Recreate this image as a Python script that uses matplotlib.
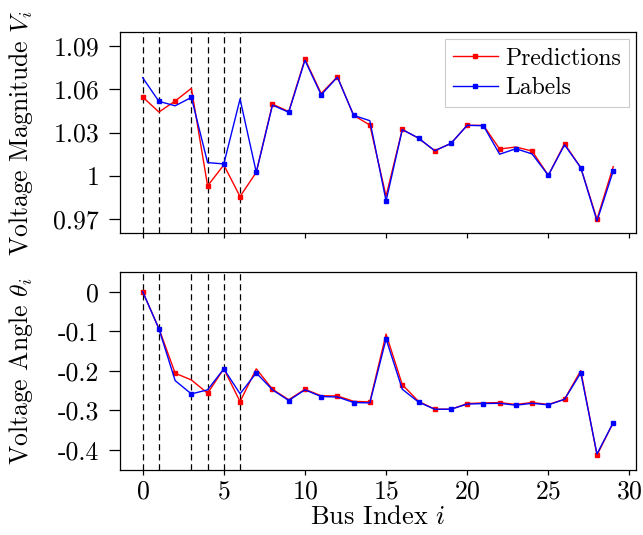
import matplotlib
matplotlib.use("Agg")
import matplotlib.pyplot as plt
import numpy as np

plt.rcParams['font.family'] = 'serif'
plt.rcParams['font.serif'] = ['cmr10']
plt.rcParams['mathtext.fontset'] = 'cm'
plt.rcParams['axes.unicode_minus'] = False
plt.rcParams['axes.formatter.use_mathtext'] = True

bus = list(range(30))
vm_pred = [1.0546, 1.0442, 1.0518, 1.0606, 0.9931, 1.0076, 0.9857, 1.0025, 1.0497, 1.0445,
           1.0808, 1.0570, 1.0686, 1.0419, 1.0352, 0.9860, 1.0322, 1.0260, 1.0174, 1.0225,
           1.0350, 1.0350, 1.0186, 1.0200, 1.0172, 1.0004, 1.0223, 1.0057, 0.9700, 1.0064]
vm_label = [1.0679, 1.0516, 1.0485, 1.0543, 1.0092, 1.0083, 1.0532, 1.0025, 1.0490, 1.0440,
            1.0800, 1.0561, 1.0683, 1.0419, 1.0382, 0.9827, 1.0320, 1.0262, 1.0174, 1.0225,
            1.0350, 1.0347, 1.0150, 1.0188, 1.0152, 1.0004, 1.0215, 1.0057, 0.9688, 1.0034]
va_pred = [0.0, -0.093, -0.206, -0.223, -0.2566, -0.195, -0.2777, -0.195, -0.2465, -0.273,
           -0.2465, -0.263, -0.2634, -0.277, -0.2785, -0.107, -0.235, -0.277, -0.297, -0.297,
           -0.2827, -0.281, -0.2802, -0.285, -0.280, -0.285, -0.2718, -0.1995, -0.413, -0.331]
va_label = [0.0, -0.094, -0.2247, -0.2583, -0.248, -0.195, -0.258, -0.2053, -0.248, -0.275,
            -0.248, -0.265, -0.266, -0.280, -0.281, -0.1195, -0.2465, -0.279, -0.297, -0.297,
            -0.284, -0.2827, -0.282, -0.2869, -0.282, -0.286, -0.272, -0.2053, -0.410, -0.3308]
dashed_buses = [0, 1, 3, 4, 5, 6]

vm_ticks = [0.97, 1.0, 1.03, 1.06, 1.09]
vm_ticklabels = ['0.97', '1', '1.03', '1.06', '1.09']
va_ticks = [0.0, -0.1, -0.2, -0.3, -0.4]
va_ticklabels = ['0', '-0.1', '-0.2', '-0.3', '-0.4']
x_ticks = [0, 5, 10, 15, 20, 25, 30]

fig = plt.figure(figsize=(6.43, 5.35), dpi=100)
ax1 = fig.add_axes([0.1866, 0.5645, 0.8024, 0.3755])
ax2 = fig.add_axes([0.1866, 0.1215, 0.8024, 0.3701], sharex=ax1)

FS = 18.5
for ax, pred, lab in [(ax1, vm_pred, vm_label), (ax2, va_pred, va_label)]:
    for b in dashed_buses:
        ax.axvline(b, color='k', linestyle=(0, (5, 3)), linewidth=0.9, zorder=1)
    ax.plot(bus, pred, color='red', linewidth=1.0, marker='s', markersize=3.5,
            markevery=(0, 2), label='Predictions', zorder=2)
    ax.plot(bus, lab, color='blue', linewidth=1.0, marker='s', markersize=3.5,
            markevery=(1, 2), label='Labels', zorder=3)
    ax.tick_params(axis='y', length=8, width=0.9, labelsize=FS, pad=7)
    ax.tick_params(axis='x', length=3.5, width=0.9, labelsize=FS)
    for s in ax.spines.values():
        s.set_linewidth(0.9)

ax1.set_ylim(0.9605, 1.0995)
ax1.set_yticks(vm_ticks)
ax1.set_yticklabels(vm_ticklabels)
ax2.set_ylim(-0.4505, 0.0497)
ax2.set_yticks(va_ticks)
ax2.set_yticklabels(va_ticklabels)
ax2.set_xticks(x_ticks)
ax2.set_xlim(-1.4, 30.4)
plt.setp(ax1.get_xticklabels(), visible=False)

ax1.set_ylabel(r'Voltage Magnitude $V_i$', fontsize=FS)
ax2.set_ylabel(r'Voltage Angle $\theta_i$', fontsize=FS)
ax2.set_xlabel(r'Bus Index $i$', fontsize=19, labelpad=1)
ax1.yaxis.set_label_coords(-0.165, 0.5)
ax2.yaxis.set_label_coords(-0.165, 0.5)

leg = ax1.legend(loc='upper right', fontsize=17, fancybox=False, framealpha=1,
                 edgecolor='0.8', borderaxespad=0.3, handlelength=1.9,
                 borderpad=0.35, labelspacing=0.3, handletextpad=0.3)
leg.get_frame().set_linewidth(0.8)

fig.savefig('out.png', dpi=100)
